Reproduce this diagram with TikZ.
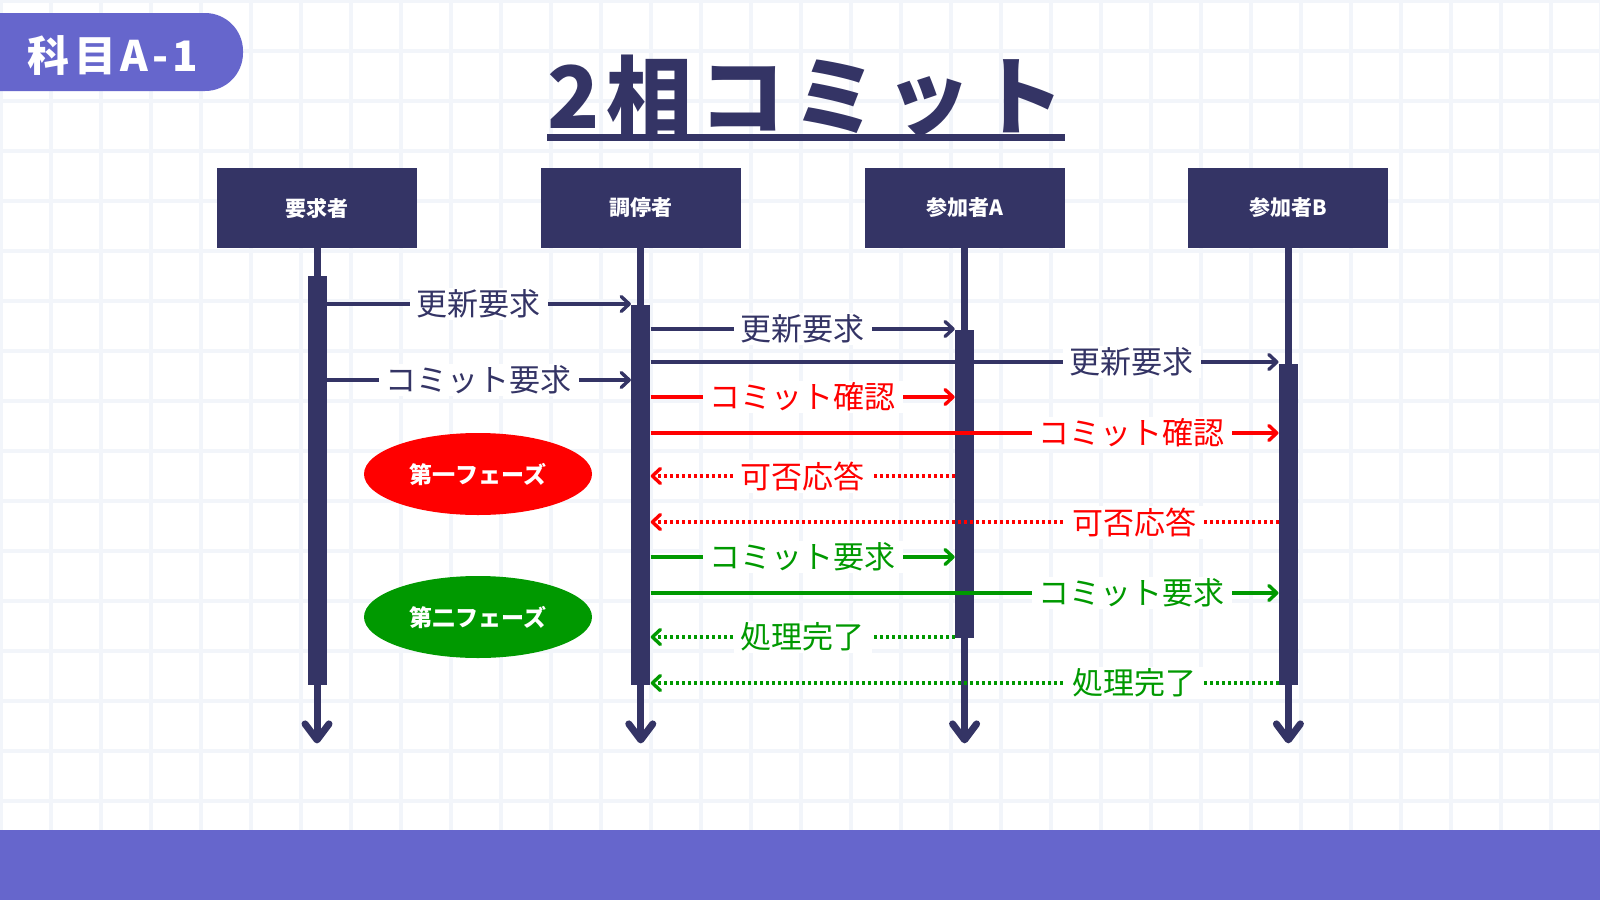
\documentclass[tikz,border=0pt]{standalone}
\usepackage{fontspec}
\setmainfont{Noto Sans CJK JP}
\usepackage{tikz}
\usetikzlibrary{arrows.meta,shapes.geometric,positioning}
\definecolor{navy}{HTML}{343465}
\definecolor{tabpurple}{HTML}{6666CC}
\definecolor{gridline}{HTML}{F2F5FA}
\definecolor{okgreen}{HTML}{009900}
\definecolor{ngred}{HTML}{FF0000}

\begin{document}
\begin{tikzpicture}[x=0.5pt,y=-0.5pt,
    actor/.style={fill=navy,text=white,minimum width=100pt,minimum height=40pt,inner sep=0pt,font=\fontsize{10.5}{12}\selectfont\bfseries},
    actbar/.style={fill=navy,minimum width=9.5pt,inner sep=0pt,anchor=north},
    lifeline/.style={navy,line width=3.5pt,-{Straight Barb[length=8pt,width=12pt,round]}},
    msg/.style={line width=1.7pt,-{Straight Barb[length=4pt,width=7.5pt,round]}},
    reply/.style={msg,dash pattern=on 1.5pt off 1.5pt},
    lbl/.style={fill=white,inner xsep=3.5pt,inner ysep=1pt,font=\fontsize{15.5}{18}\selectfont},
    phase/.style={ellipse,minimum width=114pt,minimum height=41pt,inner sep=0pt,text=white,font=\fontsize{11.5}{13}\selectfont\bfseries}]
  \useasboundingbox (0,0) rectangle (1600,900);
  \fill[white] (0,0) rectangle (1600,900);
  % grid
  \foreach \gx in {1,51,...,1601}
    \draw[gridline,line width=2pt] (\gx,0) -- (\gx,830);
  \foreach \gy in {1,51,...,801}
    \draw[gridline,line width=2pt] (0,\gy) -- (1600,\gy);
  \fill[tabpurple] (0,830) rectangle (1600,900);

  % header
  \fill[tabpurple,rounded corners=19pt] (-60,13) rectangle (243,91);
  \node[text=white,font=\fontsize{21}{25}\selectfont\bfseries\addfontfeature{LetterSpace=10},anchor=base] (subj) at (113,71) {科目A-1};
  \node[text=navy,font=\fontsize{43}{50}\selectfont\bfseries\addfontfeature{LetterSpace=8},inner sep=0pt,anchor=base] (title) at (806,128) {2相コミット};
  \draw[navy,line width=3.3pt] (title.south west) -- (title.south east);

  % actors
  \node[actor] (boxR) at (317,208) {要求者};
  \node[actor,right=61.5pt of boxR] (boxC) {調停者};
  \node[actor,right=61.5pt of boxC] (boxA) {参加者A};
  \node[actor,right=61.5pt of boxA] (boxB) {参加者B};

  \foreach \who/\dy/\len in {R/13.5/204.5,C/28/190,A/40.5/154,B/57.5/160.5}{
    \draw[lifeline] (box\who.south) -- ++(0,495);
    \node[actbar,minimum height=\len pt] (bar\who) at ([yshift=-\dy pt]box\who.south) {};
  }

  \foreach \nm/\yy in {m1/304,m2/380,m3/329,m4/362,m5/397,m6/433,m7/476,m8/522,m9/557,m10/593,m11/637,m12/683}
    \coordinate (\nm) at (0,\yy);

  % requests
  \draw[msg,navy] (barR.east |- m1) -- node[lbl]{更新要求} (barC.west |- m1);
  \draw[msg,navy] (barR.east |- m2) -- node[lbl]{コミット要求} (barC.west |- m2);
  \draw[msg,navy] (barC.east |- m3) -- node[lbl]{更新要求} (barA.west |- m3);
  \draw[msg,navy] (barC.east |- m4) -- node[lbl,pos=.766]{更新要求} (barB.west |- m4);
  % phase 1
  \draw[msg,ngred] (barC.east |- m5) -- node[lbl]{コミット確認} (barA.west |- m5);
  \draw[msg,ngred] (barC.east |- m6) -- node[lbl,pos=.766]{コミット確認} (barB.west |- m6);
  \draw[reply,ngred] (barA.west |- m7) -- node[lbl]{可否応答} (barC.east |- m7);
  \draw[reply,ngred] (barB.west |- m8) -- node[lbl,pos=.229]{可否応答} (barC.east |- m8);
  % phase 2
  \draw[msg,okgreen] (barC.east |- m9) -- node[lbl]{コミット要求} (barA.west |- m9);
  \draw[msg,okgreen] (barC.east |- m10) -- node[lbl,pos=.766]{コミット要求} (barB.west |- m10);
  \draw[reply,okgreen] (barA.west |- m11) -- node[lbl]{処理完了} (barC.east |- m11);
  \draw[reply,okgreen] (barB.west |- m12) -- node[lbl,pos=.229]{処理完了} (barC.east |- m12);

  \node[phase,fill=ngred] (ph1) at (478,474) {第一フェーズ};
  \node[phase,fill=okgreen] (ph2) at (478,617) {第二フェーズ};
\end{tikzpicture}
\end{document}
